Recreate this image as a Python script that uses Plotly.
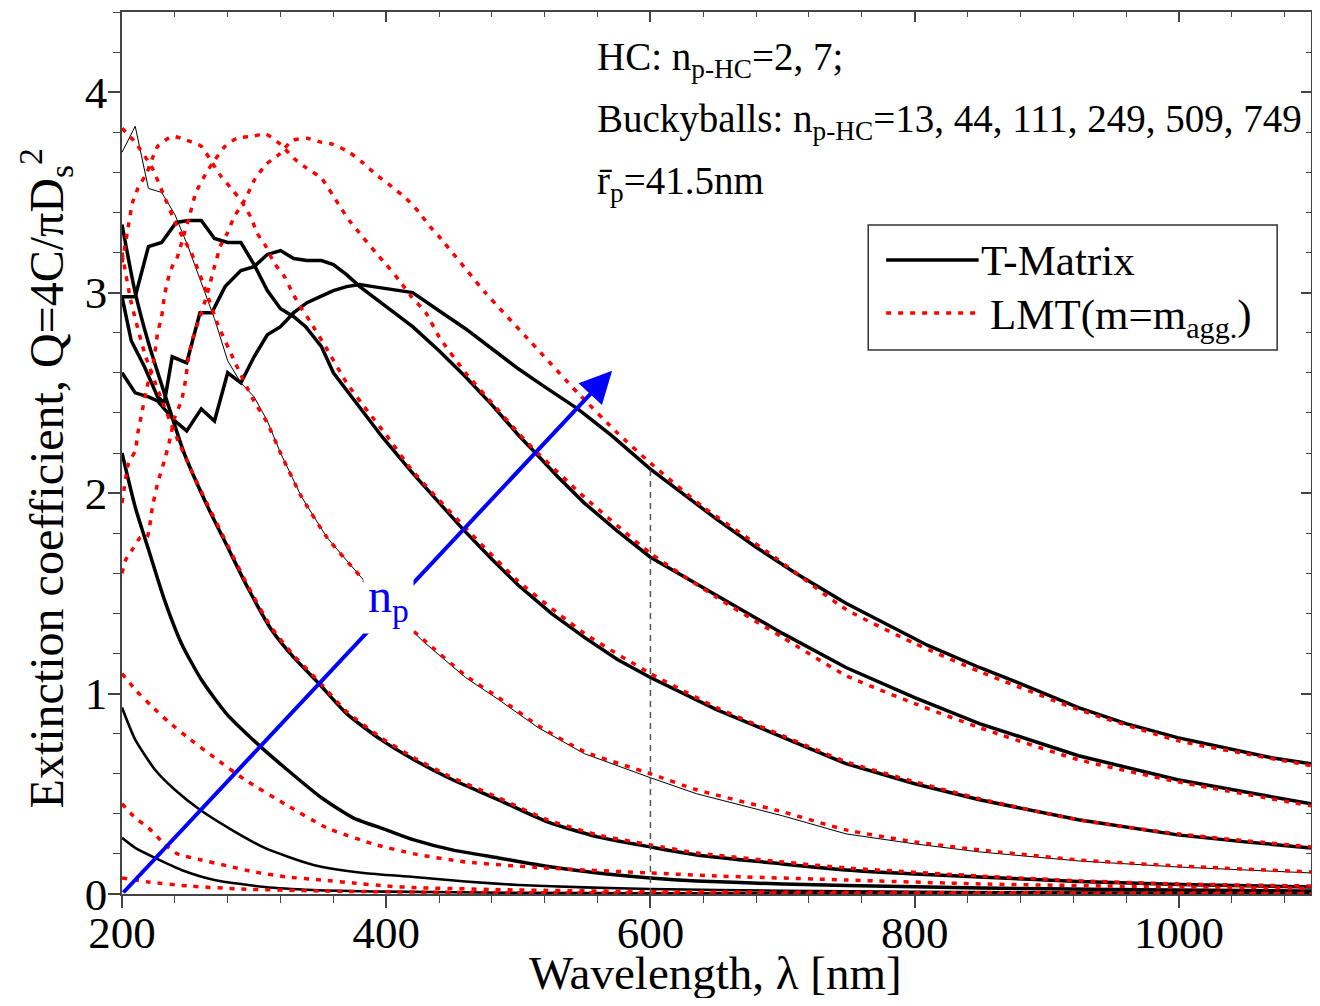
import plotly.graph_objects as go

FONT = "Liberation Serif"

# ---------------- data ----------------
# T-Matrix results (solid black), one pair of arrays per number of primary particles n_p
TM2_WL = [200, 210, 225, 245, 270, 308, 345, 400, 500, 700, 900, 1100]
TM2_Q = [0.28, 0.23, 0.18, 0.12, 0.07, 0.035, 0.02, 0.012, 0.006, 0.003, 0.002, 0.001]

TM7_WL = [200, 210, 225, 240, 259, 283, 308, 345, 383, 421, 460, 500, 550, 600, 700, 800, 950, 1100]
TM7_Q = [0.93, 0.77, 0.62, 0.52, 0.42, 0.32, 0.23, 0.145, 0.105, 0.085, 0.062, 0.045, 0.033, 0.025, 0.016, 0.011, 0.007, 0.005]

TM13_WL = [200, 210, 220, 232, 245, 260, 279, 304, 325, 351, 375, 400, 421, 450, 485, 520, 560, 600, 635, 700, 748, 850, 950, 1100]
TM13_Q = [2.20, 1.93, 1.72, 1.47, 1.25, 1.07, 0.90, 0.74, 0.62, 0.48, 0.38, 0.32, 0.27, 0.22, 0.18, 0.14, 0.105, 0.08, 0.065, 0.05, 0.042, 0.03, 0.022, 0.015]

TM44_WL = [200, 210, 220, 232, 247, 265, 280, 295, 313, 330, 349, 370, 396, 421, 447, 485, 522, 560, 600, 635, 700, 748, 800, 849, 924, 1000, 1100]
TM44_Q = [3.34, 3.00, 2.75, 2.50, 2.20, 1.93, 1.73, 1.53, 1.32, 1.18, 1.05, 0.90, 0.77, 0.67, 0.58, 0.47, 0.36, 0.285, 0.235, 0.195, 0.15, 0.12, 0.10, 0.085, 0.062, 0.048, 0.035]

TM111_WL = [200, 210, 220, 230, 240, 250, 260, 270, 280, 290, 300, 310, 320, 336, 355, 381, 400, 428, 460, 485, 515, 550, 600, 635, 700, 748, 800, 849, 924, 999, 1100]
TM111_Q = [3.70, 3.83, 3.52, 3.50, 3.39, 3.23, 3.05, 2.87, 2.66, 2.55, 2.48, 2.36, 2.20, 1.98, 1.78, 1.58, 1.44, 1.26, 1.08, 0.97, 0.83, 0.70, 0.58, 0.50, 0.39, 0.30, 0.25, 0.21, 0.165, 0.135, 0.105]

TM249_WL = [200, 210, 220, 230, 241, 250, 260, 270, 280, 290, 300, 310, 320, 330, 339, 351, 360, 380, 397, 420, 440, 458, 480, 500, 525, 550, 575, 600, 650, 700, 748, 800, 849, 924, 999, 1050, 1100]
TM249_Q = [2.98, 2.98, 3.23, 3.25, 3.35, 3.36, 3.36, 3.27, 3.25, 3.25, 3.14, 3.01, 2.92, 2.88, 2.83, 2.73, 2.60, 2.43, 2.28, 2.10, 1.95, 1.82, 1.67, 1.54, 1.40, 1.28, 1.17, 1.08, 0.92, 0.78, 0.65, 0.55, 0.47, 0.37, 0.295, 0.26, 0.23]

TM509_WL = [200, 207, 217, 227, 232, 238, 249, 259, 268, 278, 290, 300, 310, 320, 330, 340, 351, 360, 370, 380, 400, 420, 440, 460, 480, 500, 513, 530, 550, 575, 600, 650, 700, 748, 800, 849, 924, 999, 1050, 1100]
TM509_Q = [2.98, 2.76, 2.63, 2.48, 2.45, 2.68, 2.65, 2.90, 2.90, 3.03, 3.11, 3.13, 3.19, 3.21, 3.17, 3.16, 3.16, 3.14, 3.09, 3.03, 2.93, 2.83, 2.71, 2.58, 2.44, 2.29, 2.20, 2.08, 1.95, 1.81, 1.68, 1.49, 1.30, 1.13, 0.98, 0.85, 0.69, 0.57, 0.51, 0.45]

TM749_WL = [200, 210, 220, 227, 232, 240, 249, 260, 270, 280, 290, 300, 310, 320, 330, 340, 350, 360, 370, 380, 390, 400, 420, 440, 460, 480, 500, 520, 545, 570, 600, 620, 650, 680, 710, 748, 780, 810, 849, 880, 924, 960, 999, 1040, 1070, 1100]
TM749_Q = [2.60, 2.50, 2.48, 2.46, 2.42, 2.36, 2.31, 2.42, 2.36, 2.60, 2.55, 2.68, 2.79, 2.83, 2.90, 2.95, 2.98, 3.01, 3.03, 3.04, 3.03, 3.02, 3.00, 2.91, 2.82, 2.72, 2.62, 2.53, 2.42, 2.29, 2.12, 2.02, 1.87, 1.73, 1.60, 1.45, 1.34, 1.24, 1.13, 1.05, 0.93, 0.85, 0.78, 0.72, 0.68, 0.65]

# LMT results with m = m_agg (red dotted)
LM2_WL = [200, 220, 250, 290, 350, 450, 600, 800, 1100]
LM2_Q = [0.08, 0.06, 0.04, 0.025, 0.015, 0.008, 0.004, 0.002, 0.001]

LM7_WL = [200, 210, 220, 232, 242, 260, 280, 300, 325, 351, 375, 400, 421, 500, 600, 800, 1100]
LM7_Q = [0.45, 0.38, 0.33, 0.25, 0.20, 0.17, 0.14, 0.11, 0.085, 0.07, 0.055, 0.04, 0.032, 0.02, 0.012, 0.007, 0.004]

LM13_WL = [200, 210, 222, 235, 250, 270, 293, 323, 355, 390, 421, 460, 520, 600, 650, 748, 850, 1000, 1100]
LM13_Q = [1.10, 1.02, 0.94, 0.86, 0.78, 0.68, 0.57, 0.45, 0.33, 0.25, 0.20, 0.16, 0.13, 0.105, 0.09, 0.07, 0.05, 0.035, 0.028]

LM44_WL = [200, 207, 217, 228, 240, 252, 265, 280, 295, 313, 330, 349, 370, 396, 421, 447, 485, 522, 560, 600, 635, 700, 748, 849, 924, 1000, 1100]
LM44_Q = [3.20, 2.95, 2.70, 2.50, 2.30, 2.12, 1.94, 1.74, 1.54, 1.33, 1.19, 1.06, 0.91, 0.78, 0.68, 0.59, 0.48, 0.37, 0.295, 0.245, 0.205, 0.16, 0.13, 0.09, 0.066, 0.05, 0.04]

LM111_WL = [200, 210, 223, 232, 241, 253, 264, 272, 285, 299, 310, 320, 336, 355, 381, 400, 428, 460, 485, 515, 550, 600, 635, 700, 748, 800, 849, 924, 999, 1100]
LM111_Q = [3.82, 3.75, 3.62, 3.48, 3.34, 3.19, 3.00, 2.85, 2.66, 2.47, 2.35, 2.20, 1.98, 1.78, 1.58, 1.43, 1.27, 1.09, 0.98, 0.84, 0.71, 0.60, 0.52, 0.41, 0.32, 0.26, 0.22, 0.17, 0.14, 0.11]

LM249_WL = [200, 204, 208, 212, 219, 223, 227, 238, 249, 260, 268, 275, 284, 291, 298, 302, 309, 315, 323, 329, 335, 342, 355, 370, 387, 400, 420, 458, 500, 550, 600, 650, 700, 748, 800, 849, 924, 999, 1100]
LM249_Q = [3.15, 3.30, 3.45, 3.52, 3.60, 3.67, 3.73, 3.78, 3.76, 3.73, 3.65, 3.58, 3.51, 3.45, 3.37, 3.30, 3.23, 3.15, 3.08, 3.00, 2.93, 2.86, 2.72, 2.55, 2.40, 2.29, 2.11, 1.84, 1.56, 1.30, 1.10, 0.93, 0.79, 0.66, 0.56, 0.475, 0.37, 0.30, 0.235]

LM509_WL = [200, 205, 210, 212, 215, 219, 224, 227, 230, 232, 235, 238, 242, 246, 251, 256, 264, 270, 278, 287, 298, 309, 320, 330, 340, 351, 364, 372, 382, 392, 400, 410, 419, 430, 440, 460, 480, 500, 513, 550, 600, 650, 700, 748, 800, 849, 924, 999, 1100]
LM509_Q = [1.95, 2.15, 2.21, 2.30, 2.40, 2.53, 2.66, 2.80, 2.88, 2.98, 3.07, 3.13, 3.18, 3.27, 3.38, 3.50, 3.60, 3.66, 3.73, 3.77, 3.78, 3.79, 3.74, 3.67, 3.62, 3.57, 3.44, 3.36, 3.28, 3.20, 3.14, 3.06, 2.98, 2.90, 2.78, 2.60, 2.45, 2.30, 2.21, 1.98, 1.70, 1.48, 1.28, 1.09, 0.95, 0.83, 0.67, 0.56, 0.44]

LM749_WL = [200, 203, 208, 214, 219, 223, 227, 232, 236, 240, 245, 248, 250, 253, 258, 263, 266, 270, 275, 280, 285, 291, 298, 300, 309, 319, 329, 340, 351, 360, 372, 382, 392, 404, 415, 425, 433, 440, 475, 510, 545, 575, 600, 640, 690, 748, 800, 849, 924, 999, 1050, 1100]
LM749_Q = [1.60, 1.67, 1.72, 1.78, 1.78, 1.93, 2.05, 2.16, 2.26, 2.38, 2.46, 2.56, 2.66, 2.76, 2.86, 2.96, 3.03, 3.13, 3.24, 3.30, 3.38, 3.44, 3.53, 3.56, 3.64, 3.69, 3.76, 3.77, 3.75, 3.74, 3.70, 3.65, 3.59, 3.53, 3.47, 3.40, 3.33, 3.28, 3.00, 2.75, 2.50, 2.30, 2.15, 1.93, 1.70, 1.42, 1.25, 1.11, 0.92, 0.765, 0.70, 0.64]

# axis settings / tick labels
X_RANGE = [200, 1100]
Y_RANGE = [0, 4.4]
X_TICKS = [200, 400, 600, 800, 1000]
Y_TICKS = [0, 1, 2, 3, 4]

# guide line and arrow
GUIDE_WL = 600
ARROW_START = (200, 0.0)
ARROW_END = (571, 2.61)
NP_LABEL_POS = (402, 1.47)

# ---------------- figure ----------------
fig = go.Figure()

tm_series = [
    (TM2_WL, TM2_Q, 2.6, "spline"),
    (TM7_WL, TM7_Q, 2.6, "spline"),
    (TM13_WL, TM13_Q, 3.5, "spline"),
    (TM44_WL, TM44_Q, 3.5, "spline"),
    (TM111_WL, TM111_Q, 1.0, "linear"),
    (TM249_WL, TM249_Q, 3.5, "linear"),
    (TM509_WL, TM509_Q, 3.5, "linear"),
    (TM749_WL, TM749_Q, 3.5, "linear"),
]
for wl, q, w, shp in tm_series:
    ln = dict(color="black", width=w, shape=shp)
    if shp == "spline":
        ln["smoothing"] = 0.6
    fig.add_trace(go.Scatter(x=wl, y=q, mode="lines", line=ln,
                             showlegend=False, hoverinfo="skip"))

lm_series = [
    (LM2_WL, LM2_Q), (LM7_WL, LM7_Q), (LM13_WL, LM13_Q), (LM44_WL, LM44_Q),
    (LM111_WL, LM111_Q), (LM249_WL, LM249_Q), (LM509_WL, LM509_Q), (LM749_WL, LM749_Q),
]
for wl, q in lm_series:
    fig.add_trace(go.Scatter(
        x=wl, y=q, mode="lines",
        line=dict(color="#ff0000", width=3.5, dash="5px,7px", shape="spline", smoothing=0.5),
        showlegend=False, hoverinfo="skip"))

# invisible trace for the mirrored (top/right) axes with inside ticks
fig.add_trace(go.Scatter(x=[X_RANGE[0]], y=[Y_RANGE[0]], xaxis="x2", yaxis="y2",
                         mode="markers", marker=dict(opacity=0), showlegend=False,
                         hoverinfo="skip"))

AX_COL = "#444444"
tickfont = dict(family=FONT, size=45, color="black")

# The page has an 8px body margin; a 1304x990 figure fills the 1320x1006 window
# exactly (no scrollbars). Plot area then sits at x 122..1311, y 12..894 of the window.
fig.update_layout(
    width=1304, height=990,
    margin=dict(l=114, r=1, t=4, b=104),
    paper_bgcolor="white", plot_bgcolor="white",
    xaxis=dict(range=X_RANGE, tickvals=X_TICKS, showgrid=False, zeroline=False,
               showline=True, linecolor=AX_COL, linewidth=1.5,
               ticks="outside", ticklen=12, tickwidth=1.5, tickcolor=AX_COL,
               ticklabelstandoff=-14,
               minor=dict(ticks="outside", ticklen=7, tickwidth=1.2, tickcolor=AX_COL,
                          dtick=40, tick0=200, showgrid=False),
               tickfont=tickfont, automargin=False),
    yaxis=dict(range=Y_RANGE, tickvals=Y_TICKS, showgrid=False, zeroline=False,
               showline=True, linecolor=AX_COL, linewidth=1.5,
               ticks="outside", ticklen=12, tickwidth=1.5, tickcolor=AX_COL,
               ticklabelstandoff=-8,
               minor=dict(ticks="outside", ticklen=7, tickwidth=1.2, tickcolor=AX_COL,
                          dtick=0.2, tick0=0, showgrid=False),
               tickfont=tickfont, automargin=False),
    xaxis2=dict(range=X_RANGE, overlaying="x", side="top", anchor="y2",
                tickvals=X_TICKS, showticklabels=False, showgrid=False, zeroline=False,
                showline=True, linecolor=AX_COL, linewidth=1.5,
                ticks="inside", ticklen=10, tickwidth=1.5, tickcolor=AX_COL,
                minor=dict(ticks="inside", ticklen=5, tickwidth=1.2, tickcolor=AX_COL,
                           dtick=40, tick0=200, showgrid=False)),
    yaxis2=dict(range=Y_RANGE, overlaying="y", side="right", anchor="x2",
                tickvals=Y_TICKS, showticklabels=False, showgrid=False, zeroline=False,
                showline=True, linecolor=AX_COL, linewidth=1.5,
                ticks="inside", ticklen=10, tickwidth=1.5, tickcolor=AX_COL,
                minor=dict(ticks="inside", ticklen=5, tickwidth=1.2, tickcolor=AX_COL,
                           dtick=0.2, tick0=0, showgrid=False)),
    showlegend=False,
)

# vertical dashed guide at 600 nm up to the n_p=749 T-Matrix curve
guide_top = TM749_Q[TM749_WL.index(GUIDE_WL)]
fig.add_shape(type="line", xref="x", yref="y", x0=GUIDE_WL, x1=GUIDE_WL, y0=0, y1=guide_top,
              line=dict(color="#555555", width=1.5, dash="6px,5px"))


# ---- helpers: reference-window pixel -> paper fraction of the plot area ----
def px2paper_x(px):
    return (px - 122) / 1195.0


def px2paper_y(py):
    return (894 - py) / 882.0


# ---- manual legend box ----
fig.add_shape(type="rect", xref="paper", yref="paper",
              x0=px2paper_x(872), x1=px2paper_x(1283), y0=px2paper_y(350), y1=px2paper_y(225),
              line=dict(color="#333333", width=1.5), fillcolor="white", layer="above")
fig.add_shape(type="line", xref="paper", yref="paper",
              x0=px2paper_x(890), x1=px2paper_x(983), y0=px2paper_y(260), y1=px2paper_y(260),
              line=dict(color="black", width=3.5))
fig.add_shape(type="line", xref="paper", yref="paper",
              x0=px2paper_x(890), x1=px2paper_x(982), y0=px2paper_y(313), y1=px2paper_y(313),
              line=dict(color="#ff0000", width=3.5, dash="5px,7px"))

annotations = [
    # axis titles
    dict(x=px2paper_x(718), y=px2paper_y(973), xref="paper", yref="paper",
         text="Wavelength, λ [nm]", xanchor="center", yanchor="middle", showarrow=False,
         font=dict(family=FONT, size=47, color="black")),
    dict(x=px2paper_x(45), y=px2paper_y(478), xref="paper", yref="paper",
         text="Extinction coefficient, Q=4C/πD<sub>s</sub><sup>2</sup>", textangle=-90,
         xanchor="center", yanchor="middle", showarrow=False,
         font=dict(family=FONT, size=48, color="black")),
    # legend texts
    dict(x=px2paper_x(983), y=px2paper_y(260), xref="paper", yref="paper", text="T-Matrix",
         xanchor="left", yanchor="middle", showarrow=False,
         font=dict(family=FONT, size=43, color="black")),
    dict(x=px2paper_x(992), y=px2paper_y(318), xref="paper", yref="paper",
         text="LMT(m=m<sub>agg.</sub>)", xanchor="left", yanchor="middle", showarrow=False,
         font=dict(family=FONT, size=43, color="black")),
    # info text
    dict(x=px2paper_x(597), y=px2paper_y(60), xref="paper", yref="paper",
         text="HC: n<sub>p-HC</sub>=2, 7;", xanchor="left", yanchor="middle", showarrow=False,
         font=dict(family=FONT, size=39, color="black")),
    dict(x=px2paper_x(597), y=px2paper_y(122), xref="paper", yref="paper",
         text="Buckyballs: n<sub>p-HC</sub>=13, 44, 111, 249, 509, 749",
         xanchor="left", yanchor="middle", showarrow=False,
         font=dict(family=FONT, size=39, color="black")),
    dict(x=px2paper_x(597), y=px2paper_y(183), xref="paper", yref="paper",
         text="r\u0304<sub>p</sub>=41.5nm", xanchor="left", yanchor="middle", showarrow=False,
         font=dict(family=FONT, size=39, color="black")),
    # blue n_p arrow
    dict(x=ARROW_END[0], y=ARROW_END[1], ax=ARROW_START[0], ay=ARROW_START[1],
         xref="x", yref="y", axref="x", ayref="y", text="", showarrow=True,
         arrowhead=2, arrowsize=1.6, arrowwidth=4, arrowcolor="#0000ff", standoff=0),
    dict(x=NP_LABEL_POS[0], y=NP_LABEL_POS[1], xref="x", yref="y", text="n<sub>p</sub>",
         showarrow=False, bgcolor="white", borderpad=4,
         font=dict(family=FONT, size=48, color="#0000ff")),
]
fig.update_layout(annotations=annotations)

fig.write_html("out.html")
